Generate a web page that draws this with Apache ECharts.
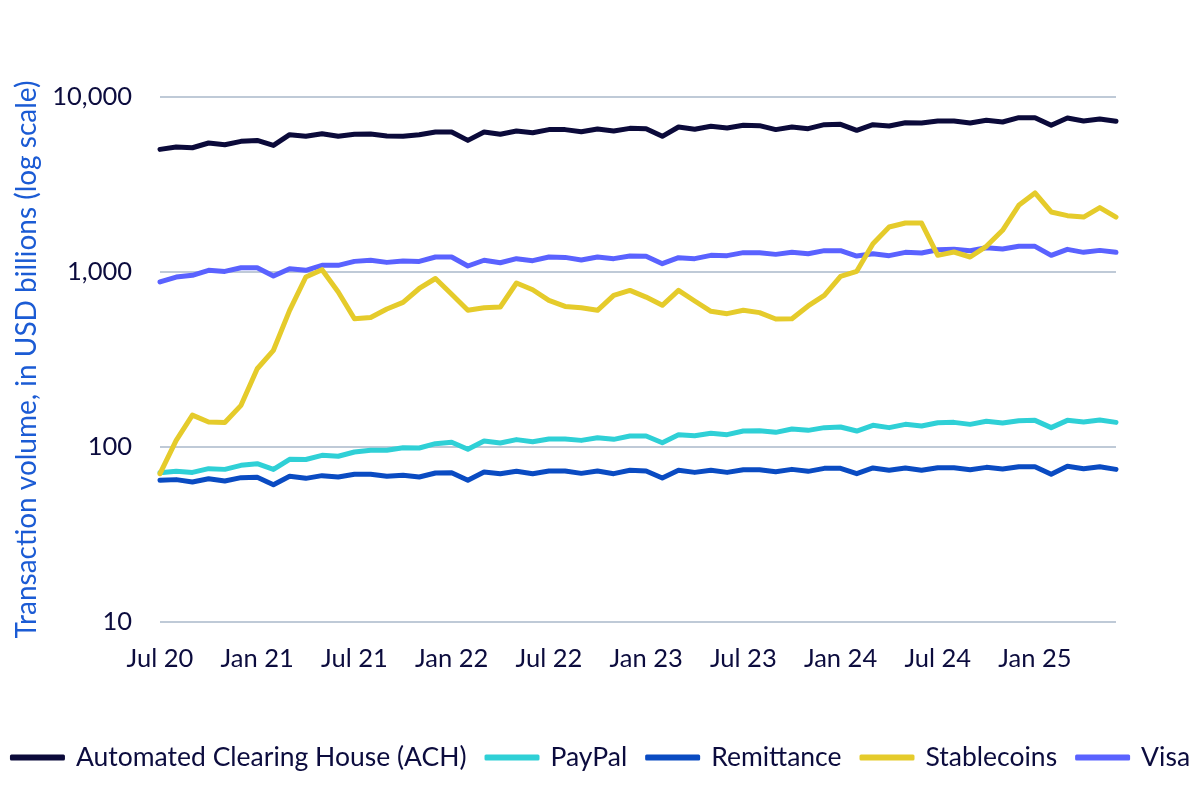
<!DOCTYPE html>
<html>
<head>
<meta charset="utf-8">
<script src="https://cdn.jsdelivr.net/npm/echarts@6.0.0/dist/echarts.min.js"></script>
<style>
  html, body { margin: 0; padding: 0; background: #fff; }
  #chart { width: 1200px; height: 803px; }
</style>
</head>
<body>
<div id="chart"></div>
<script>
// monthly, Jul 2020 - Jun 2025
const months = [
  'Jul 20','Aug 20','Sep 20','Oct 20','Nov 20','Dec 20',
  'Jan 21','Feb 21','Mar 21','Apr 21','May 21','Jun 21',
  'Jul 21','Aug 21','Sep 21','Oct 21','Nov 21','Dec 21',
  'Jan 22','Feb 22','Mar 22','Apr 22','May 22','Jun 22',
  'Jul 22','Aug 22','Sep 22','Oct 22','Nov 22','Dec 22',
  'Jan 23','Feb 23','Mar 23','Apr 23','May 23','Jun 23',
  'Jul 23','Aug 23','Sep 23','Oct 23','Nov 23','Dec 23',
  'Jan 24','Feb 24','Mar 24','Apr 24','May 24','Jun 24',
  'Jul 24','Aug 24','Sep 24','Oct 24','Nov 24','Dec 24',
  'Jan 25','Feb 25','Mar 25','Apr 25','May 25','Jun 25'
];

const ach = [
  5020, 5180, 5130, 5460, 5340, 5580, 5650, 5290, 6090, 5960, 6170, 5960, 6120, 6150, 5990,
  5960, 6090, 6310, 6310, 5650, 6310, 6120, 6390, 6250, 6510, 6510, 6330, 6570, 6390, 6620,
  6590, 5960, 6740, 6540, 6800, 6650, 6890, 6860, 6510, 6740, 6590, 6950, 6980, 6450, 6950,
  6830, 7130, 7100, 7290, 7290, 7100, 7360, 7200, 7620, 7620, 6890, 7590, 7290, 7490, 7260
];

const paypal = [
  71.3, 72.6, 71.6, 75.2, 74.5, 78.6, 80.3, 74.5, 85.1, 84.8, 89.6, 88.5, 93.6, 95.7, 95.7,
  99.1, 98.7, 104.5, 106.4, 97.0, 108.2, 105.4, 110.2, 107.2, 111.1, 111.1, 109.1, 113.0, 110.6, 115.6,
  115.6, 105.8, 117.6, 116.1, 119.7, 117.6, 123.4, 124.0, 121.3, 126.8, 124.5, 129.0, 130.1, 123.4, 133.0,
  129.0, 134.7, 131.8, 137.7, 138.3, 134.7, 140.3, 137.1, 141.4, 142.0, 129.0, 142.0, 139.0, 142.6, 138.3
];

const remittance = [
  64.5, 65.1, 63.1, 65.9, 63.9, 66.8, 67.1, 60.9, 68.0, 66.2, 68.6, 67.4, 69.8, 69.8, 68.0,
  69.0, 67.4, 71.0, 71.3, 64.5, 72.0, 70.4, 72.6, 70.4, 72.9, 72.9, 70.7, 72.9, 70.4, 73.6,
  72.9, 66.5, 73.6, 71.6, 73.6, 71.6, 74.2, 74.2, 72.3, 74.5, 72.6, 75.5, 75.5, 70.4, 75.9,
  73.6, 75.9, 73.6, 76.2, 76.2, 74.2, 76.5, 74.8, 77.2, 77.2, 69.8, 77.6, 75.2, 77.2, 74.5
];

const stablecoins = [
  70.4, 109, 152, 139, 138, 173, 280, 357, 604, 936, 1031, 769, 541, 550, 615,
  670, 805, 918, 746, 605, 625, 631, 865, 792, 689, 636, 625, 604, 736, 785,
  719, 645, 785, 683, 596, 578, 604, 586, 539, 541, 640, 736, 945, 1009, 1452,
  1807, 1905, 1905, 1245, 1301, 1218, 1402, 1730, 2404, 2828, 2203, 2099, 2061, 2333, 2061
];

const visa = [
  877, 936, 957, 1022, 1008, 1058, 1058, 948, 1045, 1022, 1092, 1092, 1150, 1167, 1135,
  1156, 1150, 1218, 1218, 1082, 1167, 1130, 1192, 1161, 1218, 1212, 1172, 1218, 1192, 1234,
  1229, 1116, 1208, 1192, 1245, 1240, 1290, 1290, 1261, 1295, 1271, 1324, 1324, 1234, 1271,
  1240, 1295, 1284, 1340, 1347, 1324, 1377, 1353, 1402, 1402, 1245, 1347, 1295, 1329, 1295
];

const yTicks = [10, 100, 1000, 10000];

const FONT = 'Lato';
const INK = '#0c0c3e';

const chart = echarts.init(document.getElementById('chart'), null, { renderer: 'canvas' });

function line(name, data, color, z) {
  return {
    name: name,
    type: 'line',
    data: data,
    symbol: 'none',
    smooth: false,
    z: z || 2,
    lineStyle: { color: color, width: 5, cap: 'round', join: 'round' },
    itemStyle: { color: color },
    emphasis: { disabled: true }
  };
}

const option = {
  backgroundColor: '#ffffff',
  animation: false,
  textStyle: { fontFamily: FONT },
  grid: { left: 160, right: 84, top: 97, bottom: 181 },
  legend: {
    top: 739,
    left: 'center',
    icon: 'roundRect',
    itemWidth: 55,
    itemHeight: 6,
    itemGap: 18,
    textStyle: { fontFamily: FONT, fontSize: 26.5, color: INK, padding: [0, 0, 0, 6] },
    data: ['Automated Clearing House (ACH)', 'PayPal', 'Remittance', 'Stablecoins', 'Visa']
  },
  xAxis: {
    type: 'category',
    data: months,
    boundaryGap: false,
    axisLine: { show: false },
    axisTick: { show: false },
    axisLabel: {
      interval: 5,
      margin: 24,
      fontFamily: FONT,
      fontSize: 25.5,
      color: INK
    },
    splitLine: { show: false }
  },
  yAxis: {
    type: 'log',
    logBase: 10,
    min: yTicks[0],
    max: yTicks[yTicks.length - 1],
    name: 'Transaction volume, in USD billions (log scale)',
    nameLocation: 'middle',
    nameRotate: 90,
    nameGap: 114,
    nameTextStyle: { fontFamily: FONT, fontSize: 28, color: '#1b5bd4' },
    axisLine: { show: false },
    axisTick: { show: false },
    axisLabel: {
      margin: 28,
      fontFamily: FONT,
      fontSize: 25.5,
      color: INK,
      formatter: function (v) { return Number(v).toLocaleString('en-US'); }
    },
    splitLine: { show: true, lineStyle: { color: '#bfcad7', width: 2 } }
  },
  series: [
    line('Automated Clearing House (ACH)', ach, '#0b0a3a'),
    line('PayPal', paypal, '#2fd0d6'),
    line('Remittance', remittance, '#0a4bc2'),
    line('Stablecoins', stablecoins, '#e5cb2b', 3),
    line('Visa', visa, '#5a62ff')
  ]
};

chart.setOption(option);
</script>
</body>
</html>
